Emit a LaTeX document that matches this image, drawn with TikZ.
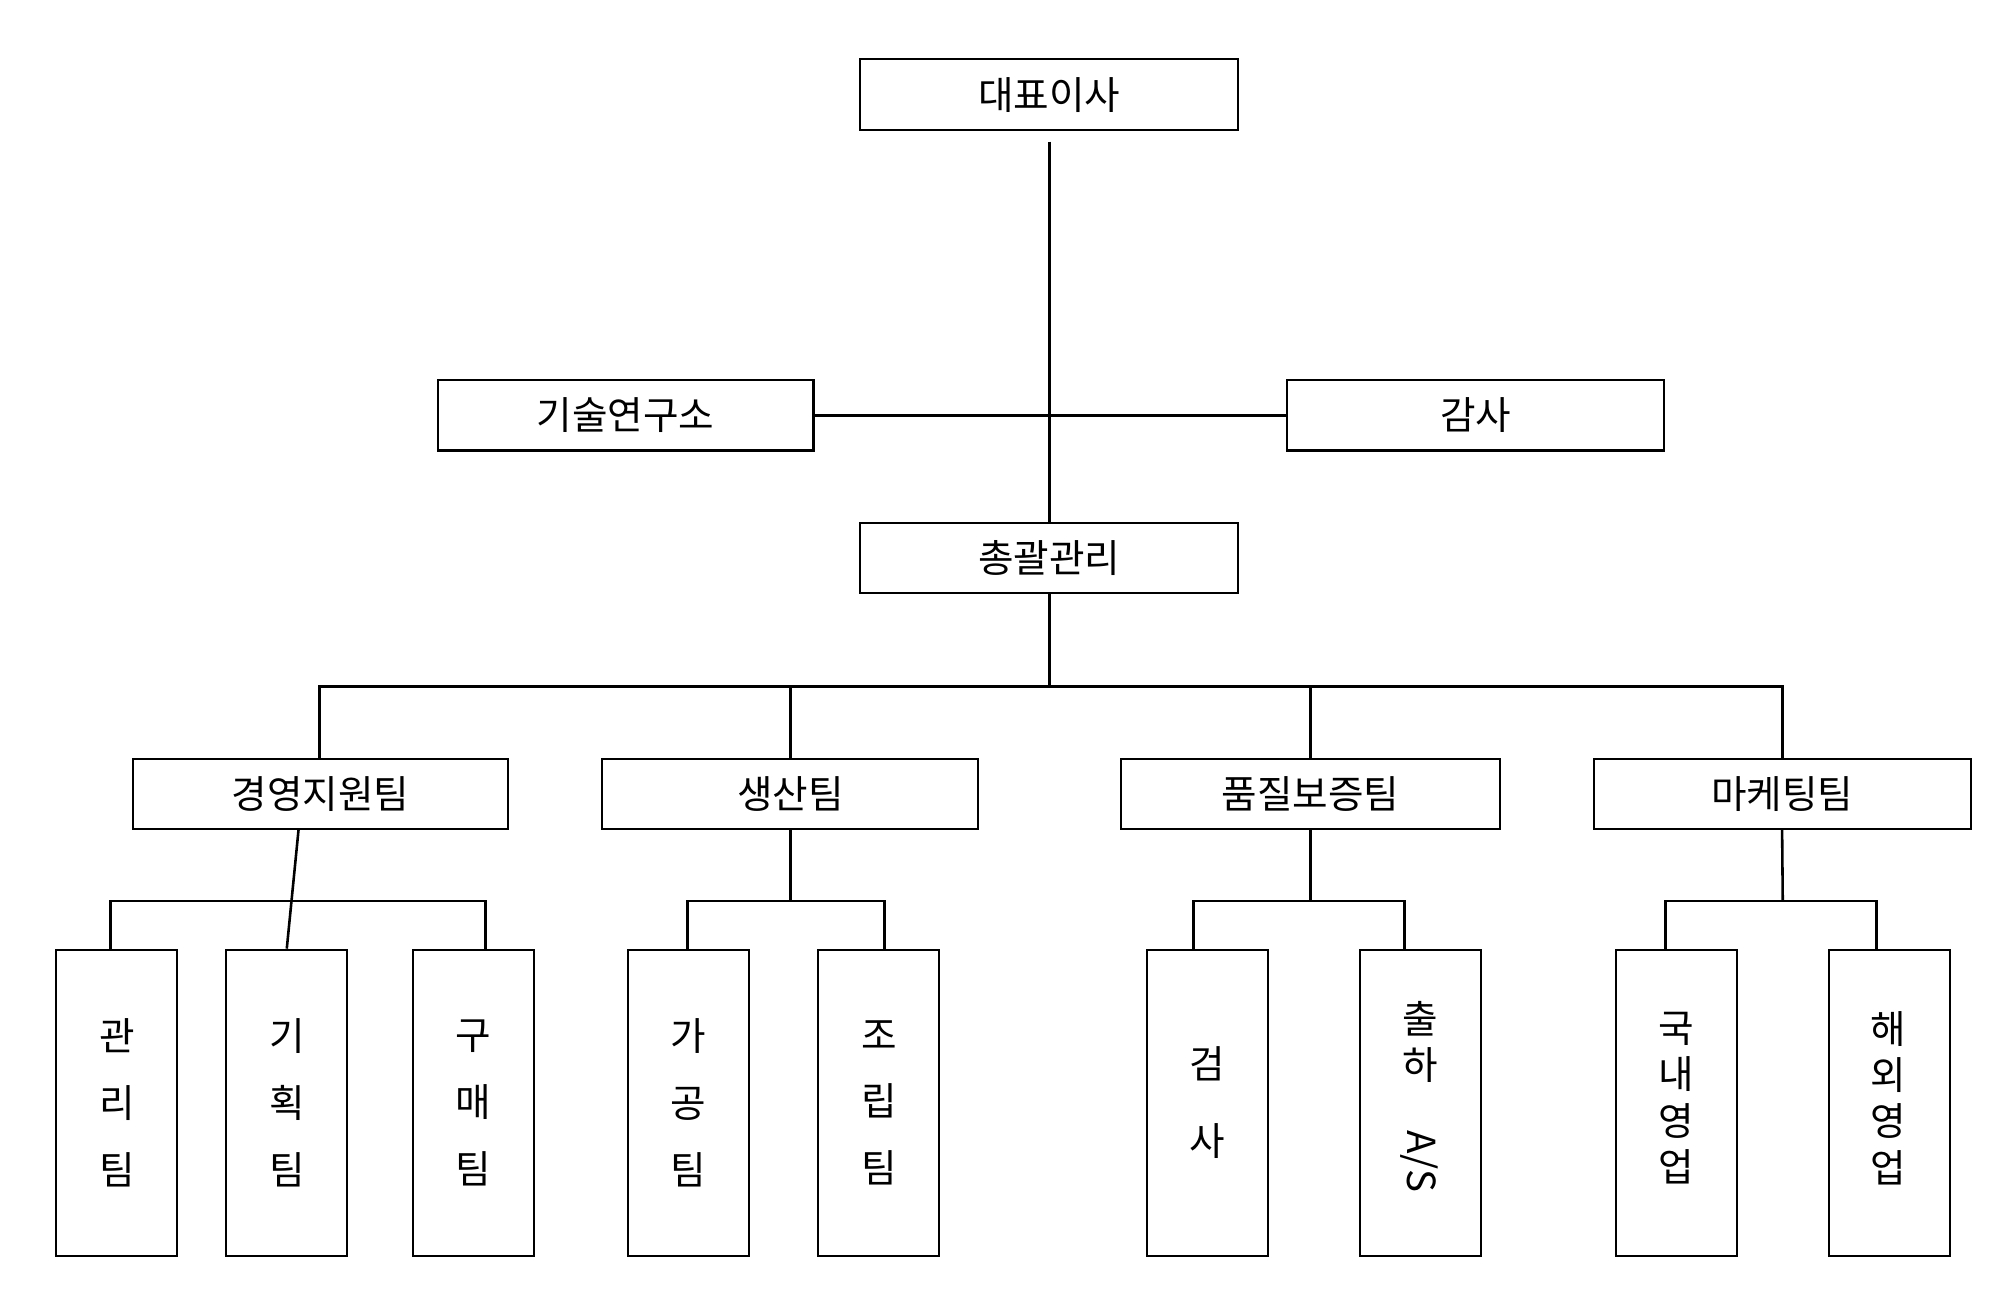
\documentclass[tikz,border=0pt]{standalone}
\usepackage{fontspec}
\setmainfont{Noto Sans CJK KR}
\usepackage{graphicx}
\begin{document}
\begin{tikzpicture}[x=1pt,y=-1pt,line width=2pt,
  box/.style={draw,line width=1.6pt,inner sep=0pt,font=\fontsize{30}{36}\selectfont},
  wl/.style={line width=2.4pt}]
\useasboundingbox[fill=white] (0,0) rectangle (1560,1009);
\def\bx#1#2#3#4#5#6{\node[box,minimum width=#4-#2,minimum height=#5-#3] (#1) at ({(#2+#4)/2},{(#3+#5)/2}) {#6};}
\bx{ceo}{668}{46}{962}{101}{대표이사}
\bx{lab}{340}{295}{632}{350}{기술연구소}
\bx{aud}{1000}{295}{1293}{350}{감사}
\bx{gm}{668}{406}{962}{461}{총괄관리}
\bx{t1}{103}{590}{395}{644}{경영지원팀}
\bx{t2}{468}{590}{760}{644}{생산팀}
\bx{t3}{871}{590}{1165}{644}{품질보증팀}
\bx{t4}{1238}{590}{1531}{644}{마케팅팀}
\def\lf#1#2#3{\node[box,minimum width=94,minimum height=238,anchor=north west,align=center,font=\fontsize{30}{52}\selectfont] (#1) at (#2,737) {#3};}
\lf{a1}{43}{관\\리\\팀}
\lf{a2}{175}{기\\획\\팀}
\lf{a3}{320}{구\\매\\팀}
\lf{b1}{487}{가\\공\\팀}
\lf{b2}{635}{조\\립\\팀}
\lf{c1}{890}{검\\[8pt]사}
\node[box,minimum width=94,minimum height=238,anchor=north west,align=center,font=\fontsize{30}{36}\selectfont] (c2) at (1056,737) {};
\node[font=\fontsize{30}{36}\selectfont,align=center] at (1103,852) {출\\하\\[4pt]\rotatebox{-90}{A/S}};
\node[box,minimum width=94,minimum height=238,anchor=north west] (d1) at (1255,737) {};
\node[font=\fontsize{30}{36}\selectfont,align=center] at (1302,853) {국\\내\\영\\업};
\node[box,minimum width=94,minimum height=238,anchor=north west] (d2) at (1420,737) {};
\node[font=\fontsize{30}{36}\selectfont,align=center] at (1467,853) {해\\외\\영\\업};
% main lines
\coordinate (top) at (815,110);
\draw[wl] (top) -- (gm.north);
\draw[wl] (lab.east) -- (aud.west);
\draw[wl] (gm.south) -- (815,533);
\draw[wl] (248,590) -- (248,533) -- (1385,533) -- (1385,590);
\draw[wl] (614,533) -- (t2.north);
\draw[wl] (1018,533) -- (t3.north);
% sub
\draw (232,644) -- (a2.north);
\draw (86,737) -- (86,700) -- (377,700) -- (377,737);
\draw (t2.south) -- (614,700);
\draw (534,737) -- (534,700) -- (687,700) -- (687,737);
\draw (t3.south) -- (1018,700);
\draw (927,737) -- (927,700) -- (1091,700) -- (1091,737);
\draw (t4.south) -- (1385,700);
\draw (1294,737) -- (1294,700) -- (1458,700) -- (1458,737);
\end{tikzpicture}
\end{document}
